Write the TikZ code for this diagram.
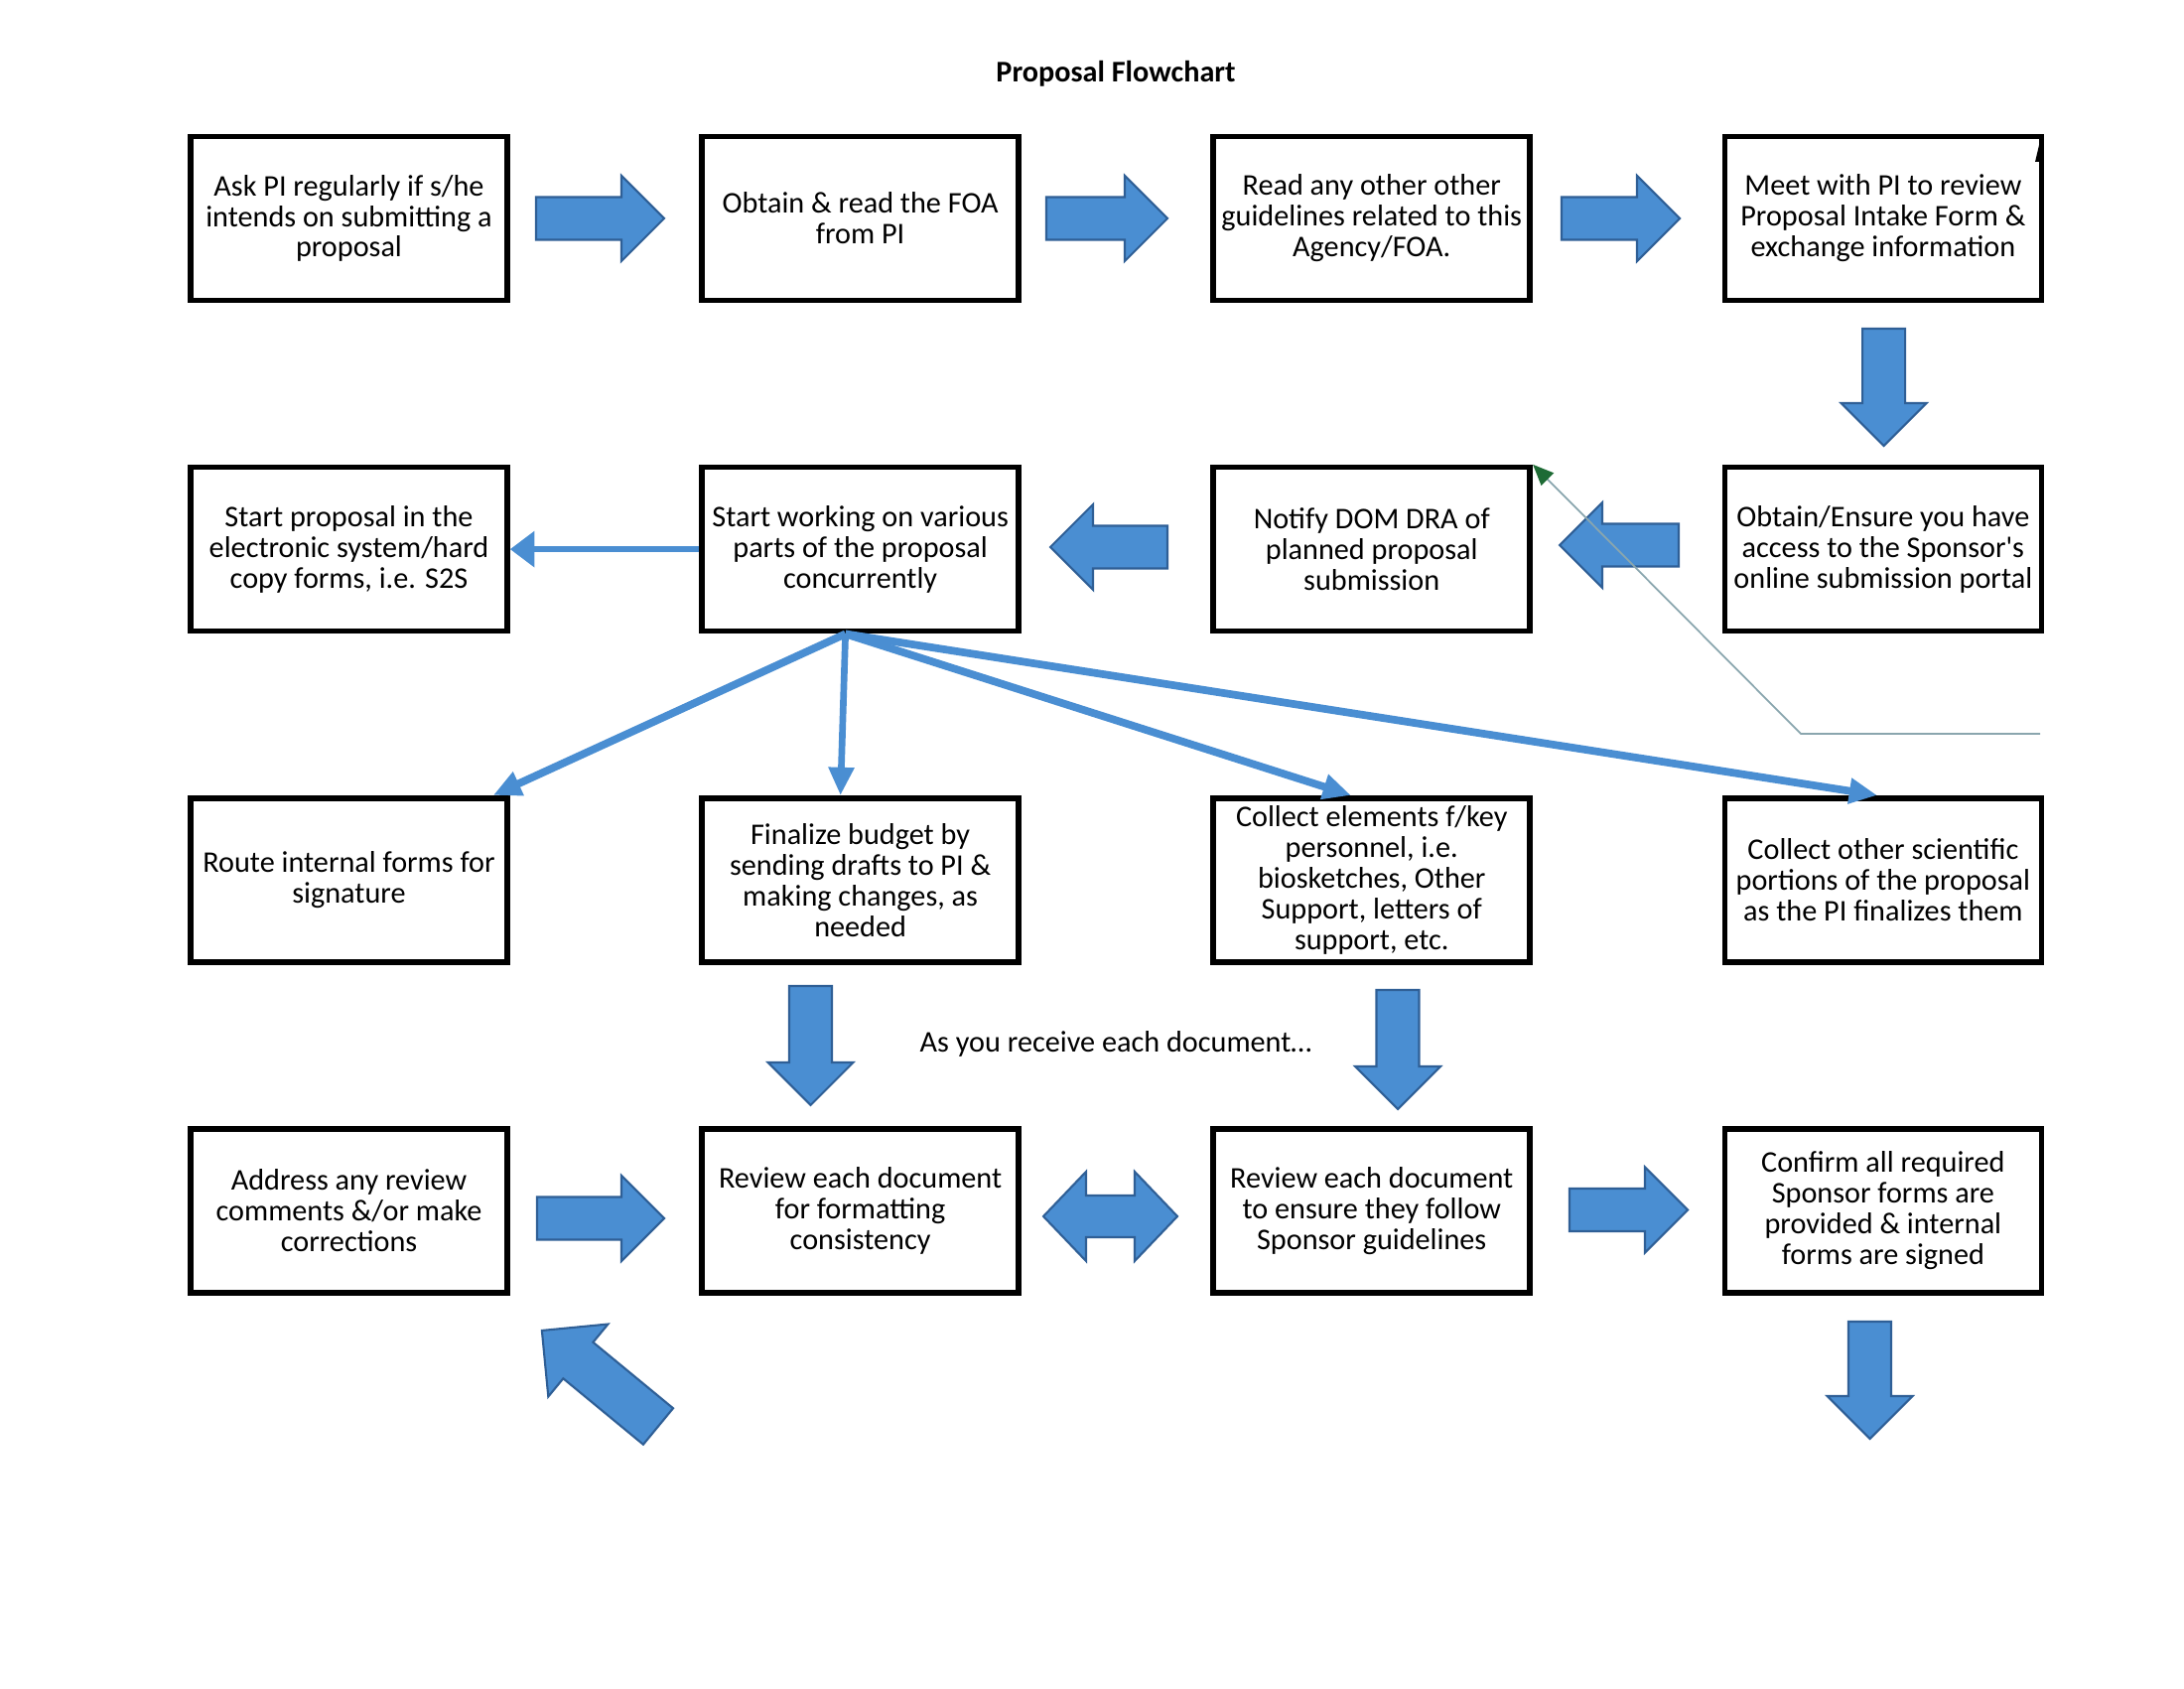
\documentclass[tikz,border=0pt]{standalone}
\usepackage{fontspec}
\setmainfont{Carlito}
\usetikzlibrary{positioning,arrows.meta}
\definecolor{arrblue}{HTML}{4A8ED2}
\definecolor{arredge}{HTML}{2F5F96}
\definecolor{arrgreen}{HTML}{1E6B35}
\definecolor{thingray}{HTML}{8AA6AE}
\begin{document}
\begin{tikzpicture}[node distance=1.625cm and 1.905cm,
    box/.style={draw, line width=1.6pt, minimum width=3.19cm, minimum height=1.65cm, inner sep=1pt, align=center, font=\fontsize{8.6}{8.8}\selectfont},
    txt/.style={font=\fontsize{8.6}{8.8}\selectfont},
    blockarrow/.style={fill=arrblue, draw=arredge, line width=0.6pt, line join=miter},
    link/.style={draw=arrblue, line width=2.2pt, -{Triangle[width=7pt,length=8pt]}},
    pics/barrow/.style={code={
        \draw[blockarrow] (0,-0.215) -- ({#1-0.43},-0.215) -- ({#1-0.43},-0.43) -- (#1,0)
            -- ({#1-0.43},0.43) -- ({#1-0.43},0.215) -- (0,0.215) -- cycle;}},
    pics/dbarrow/.style={code={
        \draw[blockarrow] (0,0) -- (0.43,0.45) -- (0.43,0.21) -- ({#1-0.43},0.21) -- ({#1-0.43},0.45)
            -- (#1,0) -- ({#1-0.43},-0.45) -- ({#1-0.43},-0.21) -- (0.43,-0.21) -- (0.43,-0.45) -- cycle;}}]
    \useasboundingbox (0,0) rectangle (22,17);

    % Title
    \node (title) [txt, font=\fontsize{8.6}{8.8}\selectfont\bfseries] at (11.24,16.26) {Proposal Flowchart};

    % Row 1
    \node (ask) [box] at (3.515,14.80) {Ask PI regularly if s/he\\intends on submitting a\\proposal};
    \node (foa) [box, right=of ask] {Obtain \& read the FOA\\from PI};
    \node (guide) [box, right=of foa] {Read any other other\\guidelines related to this\\Agency/FOA.};
    \node (meet) [box, right=of guide] {Meet with PI to review\\Proposal Intake Form \&\\exchange information};

    % Row 2
    \node (s2s) [box, below=of ask] {Start proposal in the\\electronic system/hard\\copy forms, i.e. S2S};
    \node (work) [box, right=of s2s] {Start working on various\\parts of the proposal\\concurrently};
    \node (notify) [box, right=of work] {Notify DOM DRA of\\planned proposal\\submission};
    \node (portal) [box, right=of notify] {Obtain/Ensure you have\\access to the Sponsor\textquotesingle s\\online submission portal};

    % Row 3
    \node (route) [box, below=of s2s] {Route internal forms for\\signature};
    \node (budget) [box, right=of route] {Finalize budget by\\sending drafts to PI \&\\making changes, as\\needed};
    \node (keyper) [box, right=of budget] {Collect elements f/key\\personnel, i.e.\\biosketches, Other\\Support, letters of\\support, etc.};
    \node (sci) [box, right=of keyper] {Collect other scientific\\portions of the proposal\\as the PI finalizes them};

    % Row 4
    \node (address) [box, below=of route] {Address any review\\comments \&/or make\\corrections};
    \node (format) [box, right=of address] {Review each document\\for formatting\\consistency};
    \node (sponsor) [box, right=of format] {Review each document\\to ensure they follow\\Sponsor guidelines};
    \node (confirm) [box, right=of sponsor] {Confirm all required\\Sponsor forms are\\provided \& internal\\forms are signed};

    \node (receive) [txt] at (11.24,6.49) {As you receive each document\ldots};

    % Block arrows
    \pic at (5.40,14.80) {barrow=1.29};
    \pic at (10.54,14.80) {barrow=1.22};
    \pic at (15.73,14.80) {barrow=1.19};
    \pic[rotate=-90] at (18.976,13.69) {barrow=1.18};
    \pic[rotate=180] at (16.91,11.51) {barrow=1.20};
    \pic[rotate=180] at (11.76,11.49) {barrow=1.18};
    \pic[rotate=-90] at (8.165,7.07) {barrow=1.20};
    \pic[rotate=-90] at (14.08,7.03) {barrow=1.20};
    \pic at (5.41,4.73) {barrow=1.28};
    \pic at (10.51,4.75) {dbarrow=1.35};
    \pic at (15.81,4.815) {barrow=1.19};
    \pic[rotate=-90] at (18.835,3.69) {barrow=1.18};
    \pic[rotate=140.5, scale=1.1] at (6.63,2.635) {barrow=1.38};

    % Connectors out of the working box
    \coordinate (fan) at ([xshift=-0.15cm]work.south);
    \draw[link, line width=1.8pt, -{Triangle[width=10pt,length=7pt]}] (work.west) -- (s2s.east);
    \draw[link] (fan) -- ([xshift=-0.17cm]route.north east);
    \draw[link, line width=1.9pt] (fan) -- ([xshift=-0.2cm]budget.north);
    \draw[link] (fan) -- ([xshift=-0.21cm]keyper.north);
    \draw[link] (fan) -- ([xshift=-0.06cm]sci.north);

    % Thin green pointer
    \coordinate (gstart) at (20.55,9.61);
    \coordinate (gbend) at (18.14,9.61);
    \draw[thingray, line width=0.5pt, -{Triangle[width=5pt,length=6pt,color=arrgreen]}] (gstart) -- (gbend) -- (notify.north east);

    % small mark on the meeting box
    \fill (20.50,15.37) -- (20.54,15.37) -- (20.545,15.56) -- cycle;
\end{tikzpicture}
\end{document}
